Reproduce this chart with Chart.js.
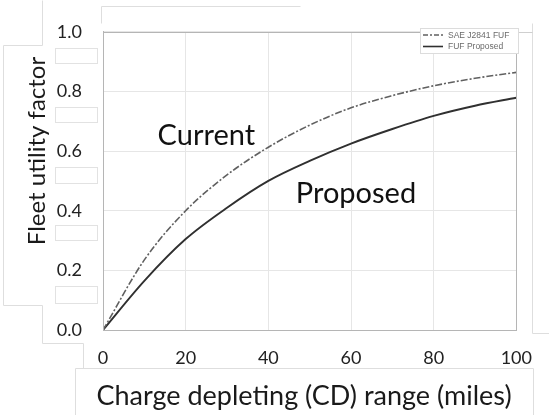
<!DOCTYPE html>
<html><head><meta charset="utf-8">
<script src="https://cdn.jsdelivr.net/npm/chart.js@4.4.0/dist/chart.umd.min.js"></script>
<style>html,body{margin:0;padding:0;background:#fff;overflow:hidden}#wrap{width:549px;height:415px}</style>
</head><body><div id="wrap"><canvas id="c" width="549" height="415"></canvas></div>
<script>
const rangeMiles = [0,10,20,30,40,50,60,70,80,90,100];
const currentFUF = [0,0.235,0.40,0.52,0.613,0.687,0.745,0.786,0.819,0.844,0.864];
const proposedFUF = [0,0.165,0.305,0.41,0.50,0.567,0.625,0.674,0.718,0.752,0.779];
const yTickValues = [0,0.2,0.4,0.6,0.8,1.0];
const xTickValues = [0,20,40,60,80,100];
const seriesNames = ['SAE J2841 FUF','FUF Proposed'];
const xTitle = 'Charge depleting (CD) range (miles)';
const yTitle = 'Fleet utility factor';
const noteTexts = ['Current','Proposed'];
const noteX = [25, 61.2];
const noteY = [0.651, 0.456];

const styles = [
  {color:'#606060', width:1.6, dash:[7,2,2,2]},
  {color:'#303030', width:1.9, dash:[]}
];

// faint leftover frame lines from the source image
const frameSegments = [
  [42,0,42,45],[3,45,42,45],[3,45,3,305],[3,305,42,305],[42,305,42,343],[42,343,83,343],[83,343,83,368],
  [75,368,533,368],[75,368,75,415],[533,368,533,415],
  [101,6,101,23],[101,6,300,6],
  [532,23,532,333],[532,333,549,333]
];
const tickBoxes = [[55,48,42,15],[55,107,42,15],[55,167,42,16],[55,225,42,15],[55,286,42,17]];

const overlay = {
  id:'overlay',
  beforeDraw(chart){
    const ctx = chart.ctx;
    ctx.save();
    ctx.fillStyle='#fff';
    ctx.fillRect(0,0,chart.width,chart.height);
    ctx.strokeStyle='#dedede'; ctx.lineWidth=1;
    frameSegments.forEach(s=>{ctx.beginPath();ctx.moveTo(s[0]+0.5,s[1]+0.5);ctx.lineTo(s[2]+0.5,s[3]+0.5);ctx.stroke();});
    ctx.strokeStyle='#e2e2e2';
    tickBoxes.forEach(b=>ctx.strokeRect(b[0]+0.5,b[1]+0.5,b[2],b[3]));
    ctx.restore();
  },
  afterDraw(chart){
    const ctx = chart.ctx, a = chart.chartArea;
    const xs = chart.scales.x, ys = chart.scales.y;
    ctx.save();
    // plot border
    ctx.strokeStyle='#b5b5b5'; ctx.lineWidth=1;
    ctx.strokeRect(Math.round(a.left)+0.5, Math.round(a.top)+0.5, Math.round(a.right-a.left), Math.round(a.bottom-a.top));
    ctx.strokeStyle='#cfcfcf';
    ctx.beginPath();ctx.moveTo(Math.round(a.right)+0.5,Math.round(a.top)+0.5);ctx.lineTo(532.5,Math.round(a.top)+0.5);ctx.stroke();
    // notes
    ctx.fillStyle='#111';
    ctx.font='29px Lato';
    ctx.textAlign='center'; ctx.textBaseline='middle';
    noteTexts.forEach((t,i)=>ctx.fillText(t, xs.getPixelForValue(noteX[i]), ys.getPixelForValue(noteY[i])));
    // axis titles
    ctx.fillStyle='#1a1a1a';
    ctx.font='27px Lato';
    ctx.fillText(xTitle, 304, 396);
    ctx.save();
    ctx.translate(37,151); ctx.rotate(-Math.PI/2);
    ctx.font='24px Lato';
    ctx.fillText(yTitle, 0, 0);
    ctx.restore();
    // legend
    const lx=420, ly=28, lw=98, lh=25;
    ctx.fillStyle='#fff'; ctx.fillRect(lx,ly,lw,lh);
    ctx.strokeStyle='#dcdcdc'; ctx.strokeRect(lx+0.5,ly+0.5,lw,lh);
    ctx.font='8.5px "Liberation Sans"';
    ctx.textAlign='left';
    seriesNames.forEach((n,i)=>{
      const yy = ly+7+i*11.5;
      ctx.strokeStyle=styles[i].color; ctx.lineWidth=1.6;
      ctx.setLineDash(styles[i].dash.length?[5,2,2,2]:[]);
      ctx.beginPath(); ctx.moveTo(lx+3,yy); ctx.lineTo(lx+23,yy); ctx.stroke();
      ctx.setLineDash([]);
      ctx.fillStyle='#6a6a6a';
      ctx.fillText(n, lx+28, yy+0.5);
    });
    ctx.restore();
  }
};

const datasets = [currentFUF, proposedFUF].map((vals,i)=>({
  label: seriesNames[i],
  data: rangeMiles.map((x,j)=>({x:x,y:vals[j]})),
  borderColor: styles[i].color,
  borderWidth: styles[i].width,
  borderDash: styles[i].dash,
  pointRadius: 0,
  fill:false,
  cubicInterpolationMode:'monotone'
}));

new Chart(document.getElementById('c'),{
  type:'line',
  data:{datasets},
  options:{
    responsive:false, animation:false, devicePixelRatio:1,
    layout:{padding:{top:23,right:28,left:0,bottom:0}},
    plugins:{legend:{display:false},tooltip:{enabled:false}},
    scales:{
      x:{type:'linear',min:0,max:100,
        afterBuildTicks(s){s.ticks=xTickValues.map(v=>({value:v}));},
        afterFit(s){s.height=85;},
        ticks:{font:{family:'Lato',size:18},color:'#222',padding:17,callback:v=>String(v)},
        grid:{color:'#e6e6e6',drawTicks:false},
        border:{color:'#b5b5b5'}
      },
      y:{min:0,max:1,
        afterBuildTicks(s){s.ticks=yTickValues.map(v=>({value:v}));},
        afterFit(s){s.width=103;},
        ticks:{font:{family:'Lato',size:18},color:'#222',padding:21,callback:v=>Number(v).toFixed(1)},
        grid:{color:'#e6e6e6',drawTicks:false},
        border:{color:'#b5b5b5'}
      }
    }
  },
  plugins:[overlay]
});
</script></body></html>
